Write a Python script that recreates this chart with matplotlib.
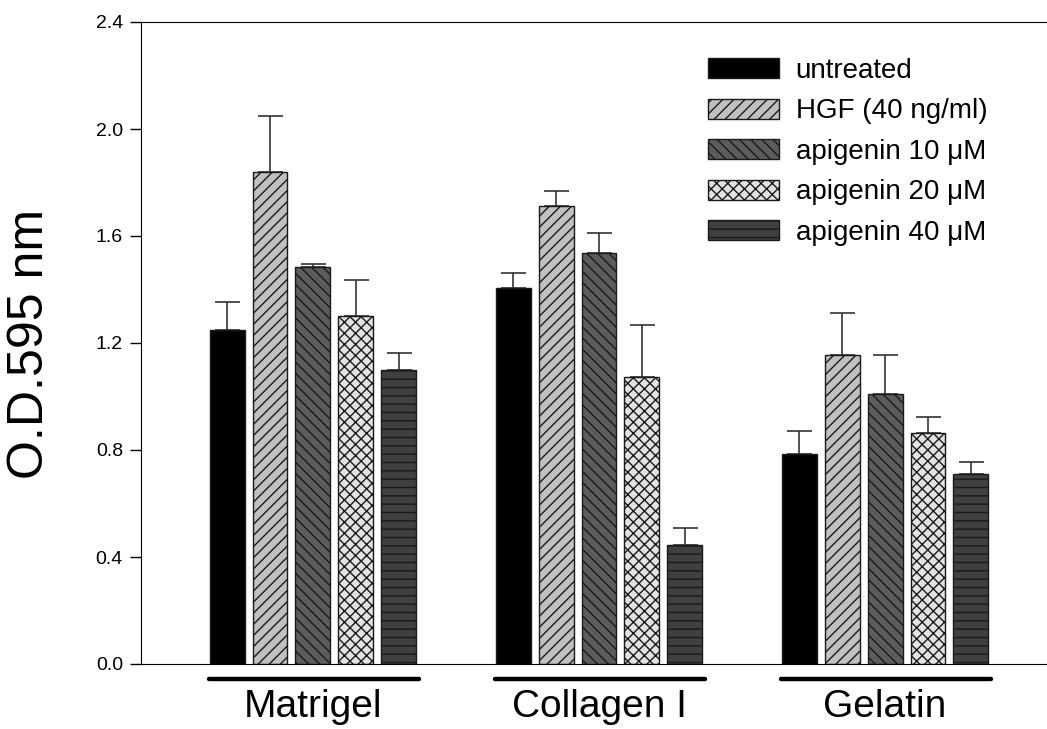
import numpy as np
import matplotlib
matplotlib.use("Agg")
import matplotlib.pyplot as plt
from matplotlib.transforms import blended_transform_factory

plt.rcParams.update({
    "font.family": ["Liberation Sans", "DejaVu Sans"],
    "hatch.linewidth": 1.0,
})

groups = ["Matrigel", "Collagen I", "Gelatin"]
series = ["untreated", "HGF (40 ng/ml)", "apigenin 10 \u03bcM",
          "apigenin 20 \u03bcM", "apigenin 40 \u03bcM"]

# mean O.D. per group (Matrigel, Collagen I, Gelatin)
untreated = [1.25, 1.405, 0.785]
hgf       = [1.84, 1.712, 1.155]
api10     = [1.484, 1.536, 1.009]
api20     = [1.30, 1.073, 0.864]
api40     = [1.099, 0.445, 0.710]

# upper error (SD)
err_untreated = [0.104, 0.057, 0.086]
err_hgf       = [0.210, 0.056, 0.157]
err_api10     = [0.011, 0.075, 0.146]
err_api20     = [0.135, 0.194, 0.059]
err_api40     = [0.064, 0.063, 0.045]

means = [untreated, hgf, api10, api20, api40]
errs = [err_untreated, err_hgf, err_api10, err_api20, err_api40]
faces = ["black", "#c0c0c0", "#5c5c5c", "#e2e2e2", "#404040"]
hatches = [None, "///", "\\\\\\", "xxx", "--"]

fig = plt.figure(figsize=(10.47, 7.29), dpi=100)
ax = fig.add_axes([141 / 1047, 65 / 729, 906 / 1047, 642 / 729])

x = np.arange(len(groups))
step = 0.150
width = 0.122
for i, (m, e) in enumerate(zip(means, errs)):
    pos = x + (i - 2) * step
    ax.bar(pos, m, width, color=faces[i], hatch=hatches[i],
           edgecolor="#1a1a1a", linewidth=1.0, label=series[i], zorder=2)
    ax.errorbar(pos, m, yerr=[np.zeros(len(m)), e], fmt="none",
                ecolor="#333333", elinewidth=1.2, capsize=9, capthick=1.2,
                zorder=1)

ax.set_xlim(-0.601, 2.566)
ax.set_ylim(0, 2.4)
ticks = np.arange(0, 2.41, 0.4)
ax.set_yticks(ticks)
ax.set_yticklabels([f"{v:.1f}" for v in ticks], fontsize=14)
ax.tick_params(axis="y", length=8, width=1, pad=5)
ax.spines["right"].set_visible(False)
ax.set_xticks(x)
ax.set_xticklabels(groups, fontsize=28)
ax.tick_params(axis="x", length=0, pad=18)

# group underlines below the axis
trans = blended_transform_factory(ax.transData, ax.transAxes)
for xi in x:
    ax.plot([xi - 0.364, xi + 0.371], [-0.023, -0.023], color="black",
            lw=3.2, transform=trans, clip_on=False, solid_capstyle="round")

fig.text(30 / 1047, 1 - 344 / 729, "O.D.595 nm", rotation=90,
         fontsize=36, ha="center", va="center")

ax.legend(loc="upper left", bbox_to_anchor=(708 / 1047, 1 - 58 / 729),
          bbox_transform=fig.transFigure, frameon=False, fontsize=20,
          handlelength=2.55, handleheight=0.72, handletextpad=0.6,
          labelspacing=0.52, borderpad=0, borderaxespad=0)

fig.savefig("out.png", dpi=100, facecolor="white")
